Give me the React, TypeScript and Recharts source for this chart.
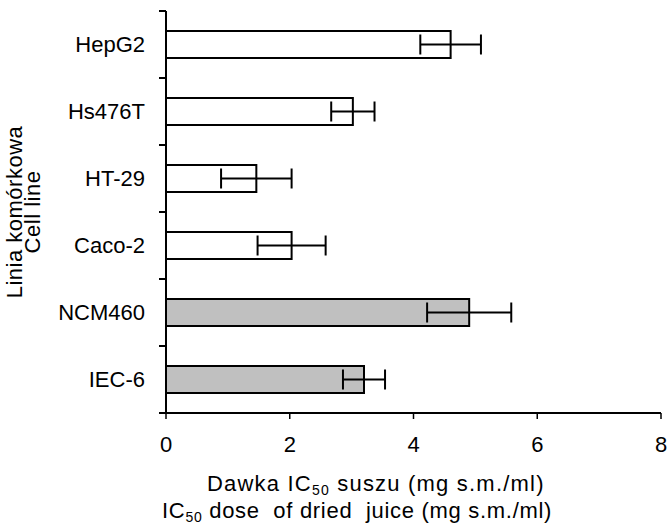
import React from 'react';
import {
  BarChart,
  Bar,
  XAxis,
  YAxis,
  Cell,
  ErrorBar,
  Customized,
} from 'recharts';

const cellLines = ['HepG2', 'Hs476T', 'HT-29', 'Caco-2', 'NCM460', 'IEC-6'];
const ic50 = [4.6, 3.02, 1.46, 2.03, 4.9, 3.2];
const ic50Sd = [0.49, 0.35, 0.57, 0.55, 0.68, 0.34];
const isNormal = [false, false, false, false, true, true];
const xTicks = [0, 2, 4, 6, 8];

const FONT = '"Liberation Sans", Arial, sans-serif';
const W = 668;
const H = 530;
const MARGIN = { top: 11, right: 7, bottom: 0, left: 0 };
const X_AXIS_H = 117;
const Y_AXIS_W = 166;
const TICK_SIZE = 6;
const TICK_MARGIN = 15;
const PLOT_H = H - MARGIN.top - MARGIN.bottom - X_AXIS_H;

const data = cellLines.map((name, i) => ({
  name,
  value: ic50[i],
  sd: ic50Sd[i],
  normal: isNormal[i],
}));

// small y ticks between the category bands
const BandTicks = () => {
  const axisX = MARGIN.left + Y_AXIS_W;
  const band = PLOT_H / cellLines.length;
  return (
    <g className="band-ticks">
      {[...cellLines, ''].map((_, k) => (
        <path
          key={k}
          d={`M${axisX - TICK_SIZE - 1},${MARGIN.top + k * band}H${axisX}`}
          stroke="#000"
          strokeWidth={2}
          fill="none"
        />
      ))}
    </g>
  );
};

const YTitle = () => {
  const cy = 212;
  return (
    <g fontFamily={FONT} fontSize={22} fill="#000" textAnchor="middle" letterSpacing={0.5}>
      <text transform={`translate(14, ${cy}) rotate(-90)`} dy="0.36em">Linia komórkowa</text>
      <text transform={`translate(32, ${cy}) rotate(-90)`} dy="0.36em">Cell line</text>
    </g>
  );
};

const XTitle = () => (
  <g fontFamily={FONT} fontSize={22} fill="#000">
    <text x={207} y={491} letterSpacing={1.2} style={{ whiteSpace: 'pre' }}>
      Dawka IC<tspan fontSize={14} dy={4}>50</tspan>
      <tspan dy={-4}> suszu (mg s.m./ml)</tspan>
    </text>
    <text x={162} y={518} letterSpacing={0.7} style={{ whiteSpace: 'pre' }}>
      IC<tspan fontSize={14} dy={4}>50</tspan>
      <tspan dy={-4}> dose  of dried  juice (mg s.m./ml)</tspan>
    </text>
  </g>
);

export default function App() {
  return (
    <div style={{ position: 'absolute', left: 0, top: 0 }}>
      <BarChart
        width={W}
        height={H}
        data={data}
        layout="vertical"
        margin={MARGIN}
        barSize={27}
      >
        <XAxis
          type="number"
          domain={[0, 8]}
          ticks={xTicks}
          height={X_AXIS_H}
          axisLine={{ stroke: '#000', strokeWidth: 2 }}
          tickLine={{ stroke: '#000', strokeWidth: 1.5 }}
          tickSize={TICK_SIZE}
          tickMargin={17}
          tick={{ fill: '#000', fontSize: 22, fontFamily: FONT }}
          label={<XTitle />}
        />
        <XAxis
          xAxisId="top"
          orientation="top"
          type="number"
          domain={[0, 8]}
          height={0}
          tick={false}
          tickLine={false}
          axisLine={{ stroke: '#8c8c8c', strokeWidth: 1.5 }}
        />
        <YAxis
          type="category"
          dataKey="name"
          width={Y_AXIS_W}
          axisLine={{ stroke: '#000', strokeWidth: 2 }}
          tickLine={false}
          tickSize={TICK_SIZE}
          tickMargin={TICK_MARGIN}
          tick={{ fill: '#000', fontSize: 22, fontFamily: FONT }}
          interval={0}
          label={<YTitle />}
        />
        <YAxis
          yAxisId="right"
          orientation="right"
          type="category"
          dataKey="name"
          width={0}
          tick={false}
          tickLine={false}
          axisLine={{ stroke: '#8c8c8c', strokeWidth: 1.5 }}
        />
        <Bar dataKey="value" stroke="#000" strokeWidth={2} isAnimationActive={false}>
          {data.map((d, i) => (
            <Cell key={i} fill={d.normal ? '#c0c0c0' : '#ffffff'} />
          ))}
          <ErrorBar dataKey="sd" direction="x" width={10} stroke="#000" strokeWidth={2} />
        </Bar>
        <Customized component={<BandTicks />} />
      </BarChart>
    </div>
  );
}
